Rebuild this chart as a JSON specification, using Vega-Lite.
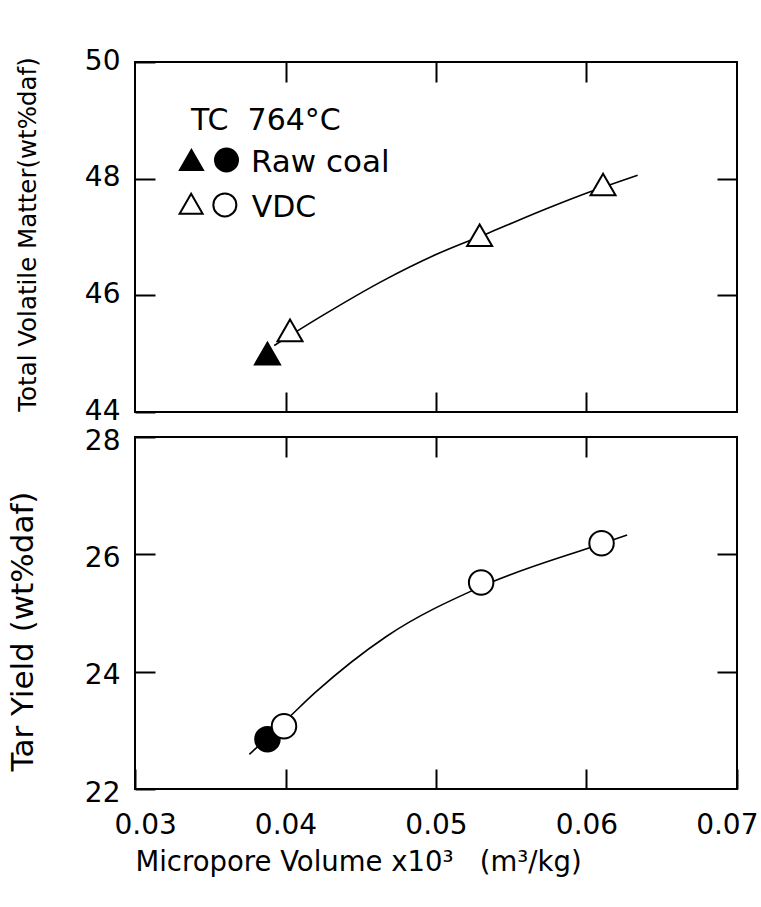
{
  "$schema": "https://vega.github.io/schema/vega-lite/v6.json",
  "background": "white",
  "padding": {"left": 6, "top": 46, "right": 10, "bottom": 10},
  "spacing": 25,
  "bounds": "flush",
  "config": {
    "font": "DejaVu Sans",
    "view": {"stroke": "black", "strokeWidth": 2},
    "axis": {
      "labelFont": "DejaVu Sans", "labelFontSize": 28, "labelColor": "black",
      "titleFont": "DejaVu Sans", "titleColor": "black", "titleFontWeight": "normal",
      "tickColor": "black", "tickWidth": 2, "domain": false, "grid": false
    }
  },
  "datasets": {
    "curveTop": [
      {"v": 0.03925, "tvm": 45.14},
      {"v": 0.0425, "tvm": 45.66},
      {"v": 0.0464, "tvm": 46.24},
      {"v": 0.05, "tvm": 46.7},
      {"v": 0.0535, "tvm": 47.07},
      {"v": 0.0575, "tvm": 47.5},
      {"v": 0.0602, "tvm": 47.77},
      {"v": 0.0634, "tvm": 48.06}
    ],
    "pointsTop": [
      {"v": 0.0388, "tvm": 45.0, "sample": "Raw coal"},
      {"v": 0.0403, "tvm": 45.4, "sample": "VDC"},
      {"v": 0.0529, "tvm": 47.03, "sample": "VDC"},
      {"v": 0.0611, "tvm": 47.9, "sample": "VDC"}
    ],
    "curveBottom": [
      {"v": 0.0376, "tar": 22.59},
      {"v": 0.0388, "tar": 22.88},
      {"v": 0.0399, "tar": 23.14},
      {"v": 0.042, "tar": 23.65},
      {"v": 0.0467, "tar": 24.6},
      {"v": 0.053, "tar": 25.45},
      {"v": 0.061, "tar": 26.18},
      {"v": 0.0627, "tar": 26.33}
    ],
    "pointsBottom": [
      {"v": 0.0388, "tar": 22.85, "sample": "Raw coal"},
      {"v": 0.0399, "tar": 23.07, "sample": "VDC"},
      {"v": 0.053, "tar": 25.52, "sample": "VDC"},
      {"v": 0.061, "tar": 26.19, "sample": "VDC"}
    ]
  },
  "vconcat": [
    {
      "width": 602, "height": 350,
      "resolve": {"axis": {"x": "independent", "y": "independent"}},
      "layer": [
        {
          "data": {"name": "curveTop"},
          "mark": {"type": "line", "interpolate": "monotone", "color": "black", "strokeWidth": 1.6},
          "encoding": {
            "x": {"field": "v", "type": "quantitative", "scale": {"domain": [0.03, 0.07], "nice": false},
                  "axis": {"orient": "bottom", "labels": false, "title": null, "values": [0.04, 0.05, 0.06], "tickSize": -20}},
            "y": {"field": "tvm", "type": "quantitative", "scale": {"domain": [44, 50], "nice": false, "zero": false},
                  "axis": {"orient": "left", "values": [44, 46, 48, 50], "tickSize": -20, "labelPadding": 35, "labelOffset": -1,
                           "title": "Total Volatile Matter(wt%daf)", "titleFontSize": 24.5, "titlePadding": 44, "titleY": 172}}
          }
        },
        {
          "data": {"name": "pointsTop"},
          "mark": {"type": "point", "shape": "triangle-up", "size": 625, "stroke": "black", "strokeWidth": 2, "opacity": 1},
          "encoding": {
            "x": {"field": "v", "type": "quantitative",
                  "axis": {"orient": "top", "labels": false, "title": null, "values": [0.04, 0.05, 0.06], "tickSize": -20}},
            "y": {"field": "tvm", "type": "quantitative",
                  "axis": {"orient": "right", "labels": false, "title": null, "values": [46, 48], "tickSize": -20}},
            "fill": {"field": "sample", "type": "nominal", "scale": {"domain": ["Raw coal", "VDC"], "range": ["black", "white"]}, "legend": null}
          }
        },
        {
          "data": {"values": [{}]},
          "mark": {"type": "text", "text": "TC\u00a0\u00a0764°C", "fontSize": 30, "align": "left", "baseline": "alphabetic", "color": "black"},
          "encoding": {"x": {"datum": 0.03372, "type": "quantitative", "axis": null}, "y": {"datum": 48.83, "type": "quantitative", "axis": null}}
        },
        {
          "data": {"values": [{}]},
          "mark": {"type": "point", "shape": "triangle-up", "size": 530, "fill": "black", "stroke": "black", "strokeWidth": 2, "opacity": 1},
          "encoding": {"x": {"datum": 0.03375, "type": "quantitative", "axis": null}, "y": {"datum": 48.32, "type": "quantitative", "axis": null}}
        },
        {
          "data": {"values": [{}]},
          "mark": {"type": "point", "shape": "circle", "size": 530, "fill": "black", "stroke": "black", "strokeWidth": 2, "opacity": 1},
          "encoding": {"x": {"datum": 0.03608, "type": "quantitative", "axis": null}, "y": {"datum": 48.32, "type": "quantitative", "axis": null}}
        },
        {
          "data": {"values": [{}]},
          "mark": {"type": "text", "text": "Raw coal", "fontSize": 31, "align": "left", "baseline": "alphabetic", "color": "black"},
          "encoding": {"x": {"datum": 0.0377, "type": "quantitative", "axis": null}, "y": {"datum": 48.11, "type": "quantitative", "axis": null}}
        },
        {
          "data": {"values": [{}]},
          "mark": {"type": "point", "shape": "triangle-up", "size": 530, "fill": "white", "stroke": "black", "strokeWidth": 2, "opacity": 1},
          "encoding": {"x": {"datum": 0.03373, "type": "quantitative", "axis": null}, "y": {"datum": 47.57, "type": "quantitative", "axis": null}}
        },
        {
          "data": {"values": [{}]},
          "mark": {"type": "point", "shape": "circle", "size": 530, "fill": "white", "stroke": "black", "strokeWidth": 2, "opacity": 1},
          "encoding": {"x": {"datum": 0.03597, "type": "quantitative", "axis": null}, "y": {"datum": 47.55, "type": "quantitative", "axis": null}}
        },
        {
          "data": {"values": [{}]},
          "mark": {"type": "text", "text": "VDC", "fontSize": 30, "align": "left", "baseline": "alphabetic", "color": "black"},
          "encoding": {"x": {"datum": 0.03775, "type": "quantitative", "axis": null}, "y": {"datum": 47.34, "type": "quantitative", "axis": null}}
        }
      ]
    },
    {
      "width": 602, "height": 352,
      "resolve": {"axis": {"x": "independent", "y": "independent"}},
      "layer": [
        {
          "data": {"name": "curveBottom"},
          "mark": {"type": "line", "interpolate": "monotone", "color": "black", "strokeWidth": 1.6},
          "encoding": {
            "x": {"field": "v", "type": "quantitative", "scale": {"domain": [0.03, 0.07], "nice": false, "zero": false},
                  "axis": {"orient": "bottom", "values": [0.03, 0.04, 0.05, 0.06, 0.07], "tickSize": -20, "labelPadding": 42,
                           "labelFlush": true, "labelFlushOffset": 21,
                           "format": ".2f",
                           "title": "Micropore Volume x10³\u00a0\u00a0\u00a0(m³/kg)", "titleFontSize": 27.5, "titlePadding": 9,
                           "titleAnchor": "start", "titleAlign": "left"}},
            "y": {"field": "tar", "type": "quantitative", "scale": {"domain": [22, 28], "nice": false, "zero": false},
                  "axis": {"orient": "left", "values": [22, 24, 26, 28], "tickSize": -20, "labelPadding": 35, "labelOffset": 4,
                           "title": "Tar Yield (wt%daf)", "titleFontSize": 31, "titlePadding": 45, "titleY": 194}}
          }
        },
        {
          "data": {"name": "pointsBottom"},
          "mark": {"type": "point", "shape": "circle", "size": 600, "stroke": "black", "strokeWidth": 2, "opacity": 1},
          "encoding": {
            "x": {"field": "v", "type": "quantitative",
                  "axis": {"orient": "top", "labels": false, "title": null, "values": [0.04, 0.05, 0.06], "tickSize": -20}},
            "y": {"field": "tar", "type": "quantitative",
                  "axis": {"orient": "right", "labels": false, "title": null, "values": [24, 26], "tickSize": -20}},
            "fill": {"field": "sample", "type": "nominal", "scale": {"domain": ["Raw coal", "VDC"], "range": ["black", "white"]}, "legend": null}
          }
        }
      ]
    }
  ]
}
